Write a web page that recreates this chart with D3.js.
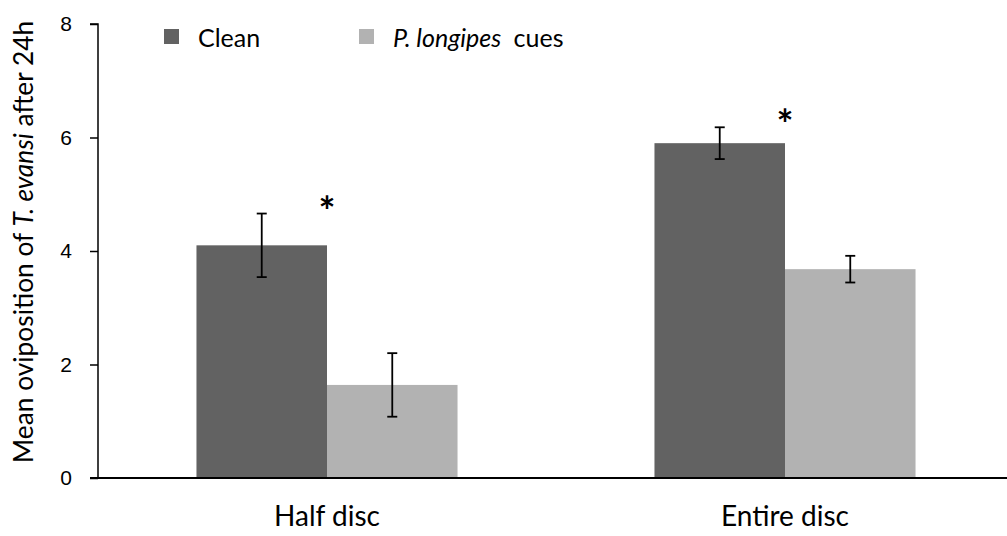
<!DOCTYPE html>
<html lang="en">
<head>
    <meta charset="UTF-8">
    <title>Mean oviposition of T. evansi</title>
    <script src="https://d3js.org/d3.v7.min.js"></script>
    <style>
        body { margin: 0; padding: 0; background: #fff; overflow: hidden; }
        .tick text { font-family: "Liberation Sans", Arial, sans-serif; font-size: 21px; fill: #000; }
        .label { font-family: Lato, "Open Sans", sans-serif; fill: #000; }
    </style>
</head>
<body>
<div id="chart"></div>
<script>
    // data
    const categories = ["Half disc", "Entire disc"];
    const seriesNames = ["Clean", "P. longipes cues"];
    const cleanMeans = [4.10, 5.90];
    const cleanErr = [0.56, 0.28];
    const cuesMeans = [1.64, 3.68];
    const cuesErr = [0.56, 0.235];
    const significant = [true, true];
    const yTicks = [0, 2, 4, 6, 8];

    const colors = ["#626262", "#b2b2b2"];

    const W = 1007, H = 536;
    const svg = d3.select("#chart").append("svg")
        .attr("width", W).attr("height", H);

    const x0 = d3.scaleBand().domain(categories).range([98, 1014]).padding(0);
    const groupW = x0.bandwidth() * 0.57;
    const x1 = d3.scaleBand().domain(seriesNames).range([-groupW / 2, groupW / 2]).padding(0);
    const y = d3.scaleLinear().domain([0, 8]).range([478, 24]);

    const rows = categories.map((c, i) => ({
        cat: c,
        vals: [
            { s: seriesNames[0], v: cleanMeans[i], e: cleanErr[i] },
            { s: seriesNames[1], v: cuesMeans[i], e: cuesErr[i] }
        ]
    }));

    const g = svg.selectAll(".grp").data(rows).enter().append("g")
        .attr("transform", d => `translate(${x0(d.cat) + x0.bandwidth() / 2},0)`);

    g.selectAll("rect").data(d => d.vals).enter().append("rect")
        .attr("x", d => x1(d.s))
        .attr("width", x1.bandwidth())
        .attr("y", d => y(d.v))
        .attr("height", d => y(0) - y(d.v))
        .attr("fill", (d, i) => colors[i]);

    // error bars
    const eb = g.selectAll(".err").data(d => d.vals).enter().append("g")
        .attr("transform", d => `translate(${x1(d.s) + x1.bandwidth() / 2},0)`)
        .attr("stroke", "#000").attr("stroke-width", 1.8);
    eb.append("line").attr("y1", d => y(d.v + d.e)).attr("y2", d => y(d.v - d.e));
    eb.append("line").attr("x1", -5).attr("x2", 5).attr("y1", d => y(d.v + d.e)).attr("y2", d => y(d.v + d.e));
    eb.append("line").attr("x1", -5).attr("x2", 5).attr("y1", d => y(d.v - d.e)).attr("y2", d => y(d.v - d.e));

    // asterisks
    g.filter((d, i) => significant[i]).append("text")
        .attr("class", "label")
        .attr("x", 0)
        .attr("y", d => y(d.vals[0].v + d.vals[0].e) + 12)
        .attr("text-anchor", "middle")
        .attr("font-size", 40).attr("font-weight", "bold")
        .text("*");

    // y axis
    const yAxis = svg.append("g").attr("transform", "translate(98,0)")
        .call(d3.axisLeft(y).tickValues(yTicks).tickSize(8).tickPadding(18));
    yAxis.selectAll("line, path").attr("stroke", "#000").attr("stroke-width", 1.5);
    yAxis.select(".domain").attr("d", `M-8,${y(8)}H0V${y(0)}`);

    // x axis line
    svg.append("line").attr("x1", 90).attr("x2", W).attr("y1", y(0)).attr("y2", y(0))
        .attr("stroke", "#000").attr("stroke-width", 2);

    // category labels
    svg.selectAll(".cat").data(categories).enter().append("text")
        .attr("class", "label")
        .attr("x", d => x0(d) + x0.bandwidth() / 2)
        .attr("y", 526)
        .attr("text-anchor", "middle")
        .attr("font-size", 28)
        .text(d => d);

    // y title
    const yt = svg.append("text").attr("class", "label")
        .attr("transform", "translate(33,242) rotate(-90)")
        .attr("text-anchor", "middle")
        .attr("font-size", 26.3);
    yt.append("tspan").text("Mean oviposition of ");
    yt.append("tspan").attr("font-style", "italic").text("T. evansi");
    yt.append("tspan").text(" after 24h");

    // legend
    const legX = [164, 359];
    const leg = svg.selectAll(".leg").data(seriesNames).enter().append("g")
        .attr("transform", (d, i) => `translate(${legX[i]},29)`);
    leg.append("rect").attr("width", 15).attr("height", 15).attr("fill", (d, i) => colors[i]);
    leg.append("text").attr("class", "label")
        .attr("x", 34).attr("y", 18).attr("font-size", 25)
        .each(function (d, i) {
            const t = d3.select(this);
            if (i === 0) { t.text(d); return; }
            t.append("tspan").attr("font-style", "italic").text("P. longipes");
            t.append("tspan").attr("dx", 6).text(" cues");
        });
</script>
</body>
</html>
